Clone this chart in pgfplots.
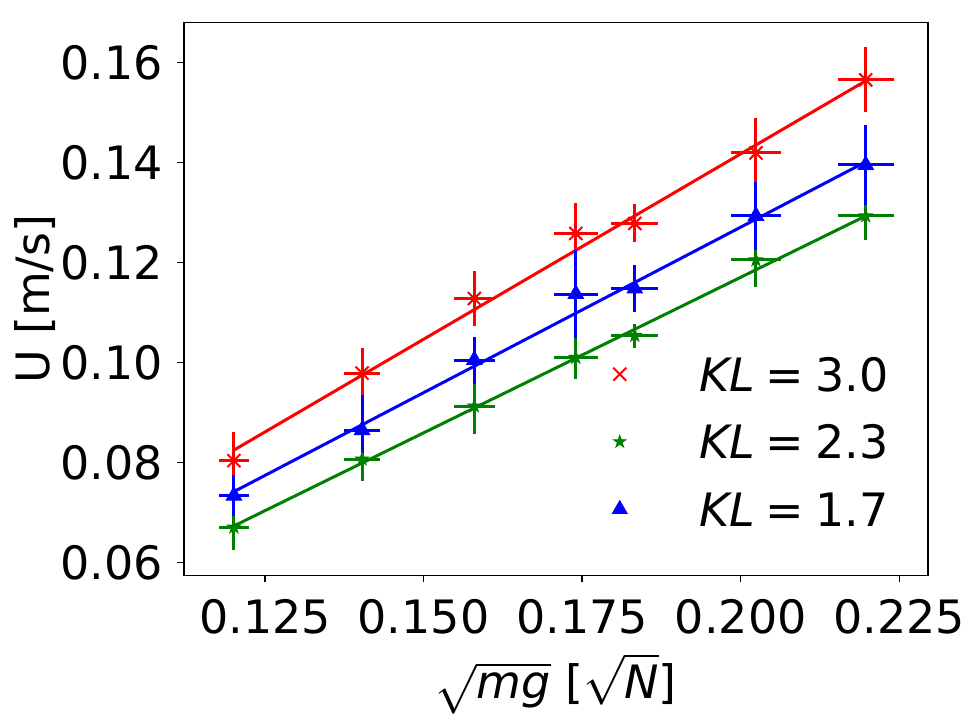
\documentclass[border=0pt]{standalone}
\usepackage{fontspec}
\setmainfont{DejaVu Sans}
\usepackage{pgfplots}
\pgfplotsset{compat=1.18}
\usetikzlibrary{plotmarks}

\definecolor{mplgreen}{rgb}{0,0.5,0}

% filled five-pointed star
\pgfdeclareplotmark{fstar}{%
  \pgfpathmoveto{\pgfpointpolar{90}{\pgfplotmarksize}}%
  \pgfpathlineto{\pgfpointpolar{126}{0.382\pgfplotmarksize}}%
  \pgfpathlineto{\pgfpointpolar{162}{\pgfplotmarksize}}%
  \pgfpathlineto{\pgfpointpolar{198}{0.382\pgfplotmarksize}}%
  \pgfpathlineto{\pgfpointpolar{234}{\pgfplotmarksize}}%
  \pgfpathlineto{\pgfpointpolar{270}{0.382\pgfplotmarksize}}%
  \pgfpathlineto{\pgfpointpolar{306}{\pgfplotmarksize}}%
  \pgfpathlineto{\pgfpointpolar{342}{0.382\pgfplotmarksize}}%
  \pgfpathlineto{\pgfpointpolar{18}{\pgfplotmarksize}}%
  \pgfpathlineto{\pgfpointpolar{54}{0.382\pgfplotmarksize}}%
  \pgfpathclose
  \pgfusepathqfillstroke
}

\begin{document}
\begin{tikzpicture}[font=\fontsize{23}{27.6}\selectfont]
\begin{axis}[
  name=ax,
  scale only axis, width=372pt, height=276.5pt,
  xmin=0.11223, xmax=0.22952, ymin=0.05748, ymax=0.168,
  xtick={0.125,0.15,0.175,0.2,0.225},
  ytick={0.06,0.08,0.1,0.12,0.14,0.16},
  scaled ticks=false,
  /pgf/number format/assume math mode=true,
  xticklabel style={/pgf/number format/fixed, /pgf/number format/fixed zerofill, /pgf/number format/precision=3, yshift=-8.35pt},
  yticklabel style={/pgf/number format/fixed, /pgf/number format/fixed zerofill, /pgf/number format/precision=2, xshift=-7pt},
  tick label style={font=\fontsize{23}{27.6}\selectfont, inner sep=0pt},
  tick align=outside, major tick length=3.5pt,
  xtick pos=bottom, ytick pos=left,
  axis line style={line width=0.75pt},
  tick style={line width=0.75pt, black},
  xlabel={$\sqrt{\textit{mg}}$ [$\sqrt{\textit{N}}$]},
  ylabel={U [m/s]},
  xlabel style={at={(axis description cs:0.5,-0.196)}, anchor=center, inner sep=0pt},
  ylabel style={at={(axis description cs:-0.2,0.5)}, anchor=center, inner sep=0pt},
  label style={font=\fontsize{23}{27.6}\selectfont},
  legend image code/.code={\path (-6pt,0pt) (39.5pt,0pt); \draw[#1] plot coordinates {(0pt,0pt)};},
  legend style={draw=none, fill=none, at={(axis description cs:0.5685,0.3951)}, anchor=north west,
    inner sep=0pt, row sep=16.75pt, column sep=0pt,
    nodes={inner sep=0pt, text height=17pt, text depth=0pt},
    font=\fontsize{23}{27.6}\selectfont},
  legend cell align=left,
]

% linear fits
\addplot[red, line width=1.5pt, forget plot] coordinates {(0.1201,0.0825) (0.2197,0.1563)};
\addplot[blue, line width=1.5pt, forget plot] coordinates {(0.1201,0.0742) (0.2197,0.1401)};
\addplot[mplgreen, line width=1.5pt, forget plot] coordinates {(0.1201,0.06735) (0.2197,0.1293)};

% KL = 3.0
\addplot[red, only marks, mark=x, mark size=4.6pt, mark options={line width=1pt}, forget plot,
  error bars/.cd, x dir=both, x explicit, y dir=both, y explicit, error mark=none,
  error bar style={line width=1.5pt}]
  table[x=x, y=y, x error=ex, y error=ey] {
x      y      ex      ey
0.1201 0.0804 0.0024  0.0058
0.1403 0.0979 0.0028  0.0050
0.1580 0.1128 0.0032  0.0055
0.1740 0.1258 0.0035  0.0060
0.1833 0.1278 0.0037  0.0038
0.2024 0.1419 0.0040  0.0069
0.2197 0.1565 0.0044  0.0065
};

% KL = 2.3
\addplot[mplgreen, only marks, mark=fstar, mark size=3.5pt, forget plot,
  error bars/.cd, x dir=both, x explicit, y dir=both, y explicit, error mark=none,
  error bar style={line width=1.5pt}]
  table[x=x, y=y, x error=ex, y error=ey] {
x      y      ex      ey
0.1201 0.0671 0.0024  0.0045
0.1403 0.0807 0.0028  0.0043
0.1580 0.0913 0.0032  0.0055
0.1740 0.1010 0.0035  0.0042
0.1833 0.1054 0.0037  0.0024
0.2024 0.1205 0.0040  0.0055
0.2197 0.1293 0.0044  0.0048
};

% KL = 1.7
\addplot[blue, only marks, mark=triangle*, mark size=4.5pt, forget plot,
  error bars/.cd, x dir=both, x explicit, y dir=both, y explicit, error mark=none,
  error bar style={line width=1.5pt}]
  table[x=x, y=y, x error=ex, y error plus=eyp, y error minus=eym] {
x      y      ex      eyp     eym
0.1201 0.0734 0.0024  0.0041  0.0041
0.1403 0.0865 0.0028  0.0070  0.0046
0.1580 0.1005 0.0032  0.0047  0.0047
0.1740 0.1137 0.0035  0.0088  0.0088
0.1833 0.1148 0.0037  0.0046  0.0046
0.2024 0.1293 0.0040  0.0068  0.0068
0.2197 0.1395 0.0044  0.0080  0.0080
};

\addlegendimage{red, only marks, mark=x, mark size=4.6pt, mark options={line width=1pt}}
\addlegendentry{\textit{KL}\hspace{0.24em}=\hspace{0.24em}3.0}
\addlegendimage{mplgreen, only marks, mark=fstar, mark size=3.3pt}
\addlegendentry{\textit{KL}\hspace{0.24em}=\hspace{0.24em}2.3}
\addlegendimage{blue, only marks, mark=triangle*, mark size=4.3pt}
\addlegendentry{\textit{KL}\hspace{0.24em}=\hspace{0.24em}1.7}
\end{axis}
\pgfresetboundingbox
\path ([shift={(-92pt,-72.35pt)}]ax.south west) rectangle ([shift={(26pt,11.15pt)}]ax.north east);
\end{tikzpicture}
\end{document}
